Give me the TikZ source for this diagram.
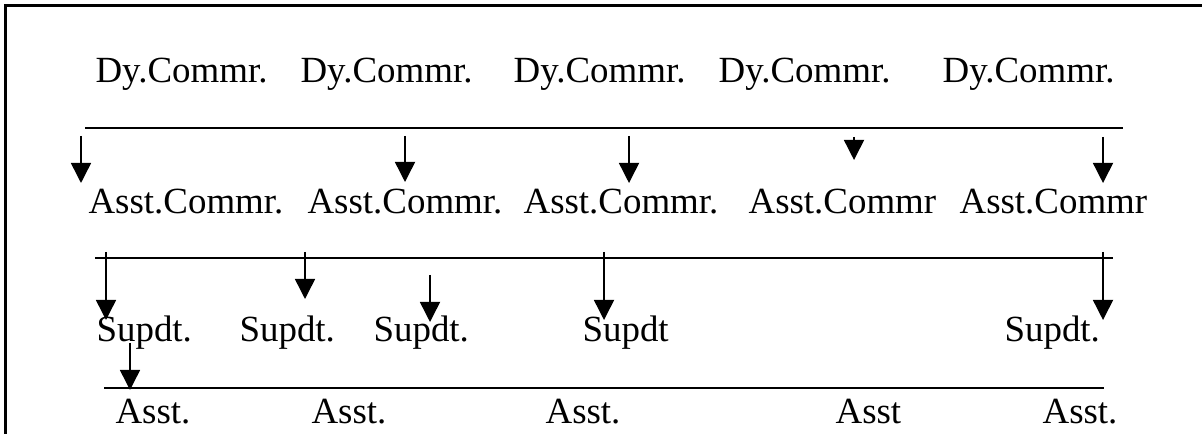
\documentclass[tikz,border=0pt]{standalone}
\usepackage{fontspec}
\setmainfont{Liberation Serif}
\usetikzlibrary{arrows.meta}
\begin{document}
\begin{tikzpicture}[x=0.33333pt,y=-0.33333pt,
  lbl/.style={anchor=base west,inner sep=0pt,font=\fontsize{12.3}{14}\selectfont},
  rule/.style={line width=0.6pt},
  arr/.style={line width=0.5pt,-{Triangle[width=6.7pt,length=6.7pt]}},
  frame/.style={line width=0.9pt}]
\useasboundingbox (0,0) rectangle (1202,434);
% frame (left and top edges only)
\coordinate (fb) at (5.5,434);
\coordinate (fc) at (5.5,5.7);
\coordinate (fr) at (1202,5.7);
\draw[frame] (fb) -- (fc) -- (fr);

% row 1
\node[lbl] (d1) at (95,83) {Dy.Commr.};
\node[lbl] (d2) at (300,83) {Dy.Commr.};
\node[lbl] (d3) at (513,83) {Dy.Commr.};
\node[lbl] (d4) at (718,83) {Dy.Commr.};
\node[lbl] (d5) at (942,83) {Dy.Commr.};
\coordinate (l1a) at (85,128);
\coordinate (l1b) at (1123,128);
\draw[rule] (l1a) -- (l1b);

% row 2
\node[lbl] (a1) at (88,214) {Asst.Commr.};
\node[lbl] (a2) at (307,214) {Asst.Commr.};
\node[lbl] (a3) at (523,214) {Asst.Commr.};
\node[lbl] (a4) at (748,214) {Asst.Commr};
\node[lbl] (a5) at (959,214) {Asst.Commr};

% arrows row 1 -> row 2
\coordinate (p1s) at (81,136);   \coordinate (p1e) at (81,183);
\coordinate (p2s) at (405,136);  \coordinate (p2e) at (405,182);
\coordinate (p3s) at (629,136);  \coordinate (p3e) at (629,183);
\coordinate (p4s) at (854,137);  \coordinate (p4e) at (854,160);
\coordinate (p5s) at (1103,137); \coordinate (p5e) at (1103,183);
\foreach \i in {1,...,5} \draw[arr] (p\i s) -- (p\i e);

\coordinate (l2a) at (95,258);
\coordinate (l2b) at (1113,258);
\draw[rule] (l2a) -- (l2b);

% arrows row 2 -> row 3
\coordinate (q1s) at (106,252);  \coordinate (q1e) at (106,320);
\coordinate (q2s) at (305,252);  \coordinate (q2e) at (305,299);
\coordinate (q3s) at (430,275);  \coordinate (q3e) at (430,322);
\coordinate (q4s) at (604,252);  \coordinate (q4e) at (604,320);
\coordinate (q5s) at (1103,252); \coordinate (q5e) at (1103,320);
\foreach \i in {1,...,5} \draw[arr] (q\i s) -- (q\i e);

% row 3
\node[lbl] (s1) at (96,342) {Supdt.};
\node[lbl] (s2) at (239,342) {Supdt.};
\node[lbl] (s3) at (373,342) {Supdt.};
\node[lbl] (s4) at (582,342) {Supdt};
\node[lbl] (s5) at (1004,342) {Supdt.};

% arrow row 3 -> row 4
\coordinate (r1s) at (130,343); \coordinate (r1e) at (130,390);
\draw[arr] (r1s) -- (r1e);

\coordinate (l3a) at (104,388);
\coordinate (l3b) at (1104,388);
\draw[rule] (l3a) -- (l3b);

% row 4
\node[lbl] (t1) at (115,424) {Asst.};
\node[lbl] (t2) at (311,424) {Asst.};
\node[lbl] (t3) at (545,424) {Asst.};
\node[lbl] (t4) at (835,424) {Asst};
\node[lbl] (t5) at (1042,424) {Asst.};
\end{tikzpicture}
\end{document}
